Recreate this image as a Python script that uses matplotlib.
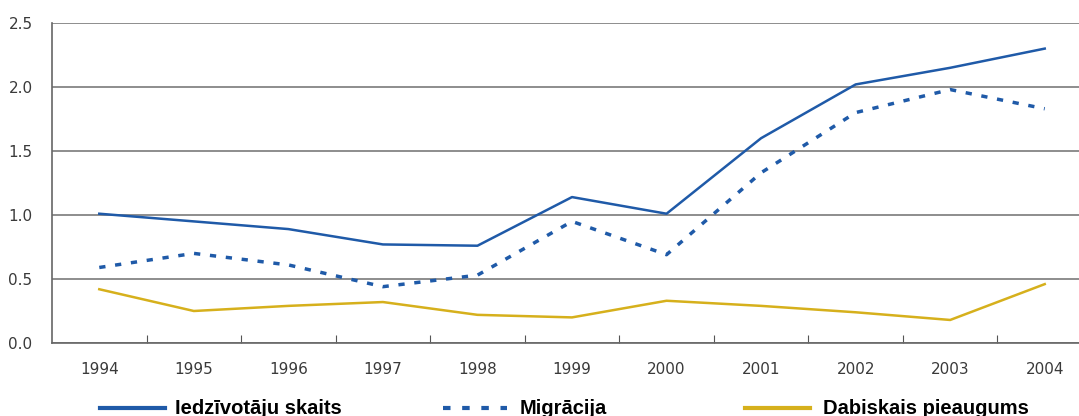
import matplotlib
matplotlib.use("Agg")
import matplotlib.pyplot as plt
from matplotlib.lines import Line2D

# data
years = ['1994', '1995', '1996', '1997', '1998', '1999', '2000', '2001', '2002', '2003', '2004']
iedzivotaju = [1.01, 0.95, 0.89, 0.77, 0.76, 1.14, 1.01, 1.60, 2.02, 2.15, 2.30]
migracija = [0.59, 0.70, 0.61, 0.44, 0.53, 0.95, 0.69, 1.33, 1.80, 1.98, 1.83]
dabiskais = [0.42, 0.25, 0.29, 0.32, 0.22, 0.20, 0.33, 0.29, 0.24, 0.18, 0.46]
labels = ['Iedzīvotāju skaits', 'Migrācija', 'Dabiskais pieaugums']

blue = '#1f5aa8'
yellow = '#d6b01c'
dots = (0, (1.8, 2.8))

fig = plt.figure(figsize=(10.79, 4.16), dpi=100)
ax = fig.add_axes([52 / 1079, 1 - 343 / 416, 1040 / 1079, 320 / 416])

x = range(len(years))
ax.plot(x, iedzivotaju, color=blue, lw=1.8)
ax.plot(x, migracija, color=blue, lw=2.5, linestyle=dots, dash_capstyle='butt')
ax.plot(x, dabiskais, color=yellow, lw=1.8)

ax.set_xlim(-0.5, len(years) - 0.5)
ax.set_ylim(0, 2.5)
ax.set_yticks([0, 0.5, 1.0, 1.5, 2.0, 2.5])
ax.set_yticklabels(['0.0', '0.5', '1.0', '1.5', '2.0', '2.5'])
ax.yaxis.grid(True, color='#7a7a7a', lw=1.2)
ax.set_axisbelow(True)

ax.set_xticks([i + 0.5 for i in range(len(years) - 1)])
ax.set_xticklabels([])
ax.set_xticks(list(x), minor=True)
ax.set_xticklabels(years, minor=True)
ax.tick_params(axis='x', which='major', direction='in', length=6, color='#555555')
ax.tick_params(axis='x', which='minor', length=0, pad=14, labelsize=11, labelcolor='#3a3a3a')
ax.tick_params(axis='y', length=0, pad=14, labelsize=11, labelcolor='#3a3a3a')

for side in ['top', 'right']:
    ax.spines[side].set_visible(False)
for side in ['left', 'bottom']:
    ax.spines[side].set_color('#666666')
    ax.spines[side].set_linewidth(1.2)

# legend along the bottom edge, cut off like the reference
ly = 1 - 408 / 416
items = [
    (100, 165, 175, dict(color=blue, lw=3.0)),
    (443, 507, 520, dict(color=blue, lw=3.0, linestyle=dots)),
    (745, 810, 823, dict(color=yellow, lw=3.0)),
]
for (x0, x1, tx, style), lab in zip(items, labels):
    fig.add_artist(Line2D([x0 / 1079, x1 / 1079], [ly, ly], transform=fig.transFigure, **style))
    fig.text(tx / 1079, ly, lab, fontsize=14.5, fontweight='bold', family='Liberation Sans',
             va='center', ha='left', color='black')

fig.savefig('out.png', dpi=100)
